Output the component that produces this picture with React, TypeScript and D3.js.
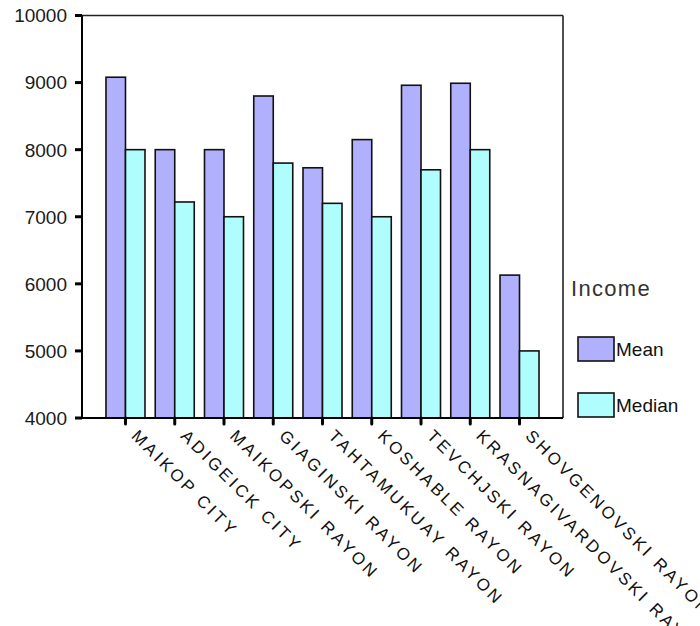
import React from "react";
import * as d3 from "d3";

const categories = [
  "MAIKOP CITY",
  "ADIGEICK CITY",
  "MAIKOPSKI RAYON",
  "GIAGINSKI RAYON",
  "TAHTAMUKUAY RAYON",
  "KOSHABLE RAYON",
  "TEVCHJSKI RAYON",
  "KRASNAGIVARDOVSKI RAYON",
  "SHOVGENOVSKI RAYON",
];
const meanValues = [9080, 8000, 8000, 8800, 7730, 8150, 8960, 8990, 6130];
const medianValues = [8000, 7220, 7000, 7800, 7200, 7000, 7700, 8000, 5000];
const seriesNames = ["Mean", "Median"];
const seriesColors = ["#b0b0fd", "#b0fdfd"];
const yTicks = [4000, 5000, 6000, 7000, 8000, 9000, 10000];
const legendTitle = "Income";

const W = 700;
const H = 626;
const left = 82;
const right = 563;
const top = 15.5;
const bottom = 418;

export default function App() {
  const y = d3.scaleLinear().domain([4000, 10000]).range([bottom, top]);
  const x0 = d3
    .scaleBand<string>()
    .domain(categories)
    .range([left, right])
    .paddingInner(0.208)
    .paddingOuter(0.487);
  const x1 = d3
    .scaleBand<string>()
    .domain(seriesNames)
    .range([0, x0.bandwidth()]);
  const series = [meanValues, medianValues];
  const font = "Arial, 'Liberation Sans', sans-serif";

  return (
    <svg
      width={W}
      height={H}
      style={{ position: "absolute", left: 0, top: 0, background: "#fff" }}
      fontFamily={font}
    >
      {/* bars */}
      {categories.map((c, i) => (
        <g key={c}>
          {series.map((vals, s) => (
            <rect
              key={s}
              x={(x0(c) ?? 0) + (x1(seriesNames[s]) ?? 0)}
              y={y(vals[i])}
              width={x1.bandwidth()}
              height={bottom - y(vals[i])}
              fill={seriesColors[s]}
              stroke="#111"
              strokeWidth={1.6}
            />
          ))}
        </g>
      ))}

      {/* frame */}
      <line x1={left} x2={right} y1={top} y2={top} stroke="#222" strokeWidth={1.6} />
      <line x1={right} x2={right} y1={top} y2={bottom} stroke="#222" strokeWidth={1.6} />
      <line x1={left} x2={right} y1={bottom} y2={bottom} stroke="#000" strokeWidth={2} />
      <line x1={left} x2={left} y1={top} y2={bottom} stroke="#000" strokeWidth={2} />

      {/* y axis ticks & labels */}
      {yTicks.map((t) => (
        <g key={t}>
          <line x1={75} x2={left} y1={y(t)} y2={y(t)} stroke="#000" strokeWidth={3} />
          <text
            x={67}
            y={y(t)}
            dy="0.36em"
            textAnchor="end"
            fontSize={19}
            fill="#1a1a1a"
          >
            {t}
          </text>
        </g>
      ))}

      {/* x ticks & labels */}
      {categories.map((c) => {
        const cx = (x0(c) ?? 0) + x0.bandwidth() / 2;
        const bx = cx + 5;
        const by = 437;
        return (
          <g key={c}>
            <line
              x1={cx}
              x2={cx}
              y1={bottom}
              y2={bottom + 6}
              stroke="#000"
              strokeWidth={3}
              strokeLinecap="round"
            />
            <text
              transform={`translate(${bx},${by}) rotate(45)`}
              fontSize={17}
              letterSpacing={3}
              fill="#111"
            >
              {c}
            </text>
          </g>
        );
      })}

      {/* legend */}
      <text x={571} y={296} fontSize={22} letterSpacing={1.3} fill="#333">
        {legendTitle}
      </text>
      {seriesNames.map((n, s) => {
        const ry = 337 + s * 56;
        return (
          <g key={n}>
            <rect
              x={578}
              y={ry}
              width={36}
              height={24}
              fill={seriesColors[s]}
              stroke="#111"
              strokeWidth={1.6}
            />
            <text x={616} y={ry + 19} fontSize={19} fill="#111">
              {n}
            </text>
          </g>
        );
      })}
    </svg>
  );
}
